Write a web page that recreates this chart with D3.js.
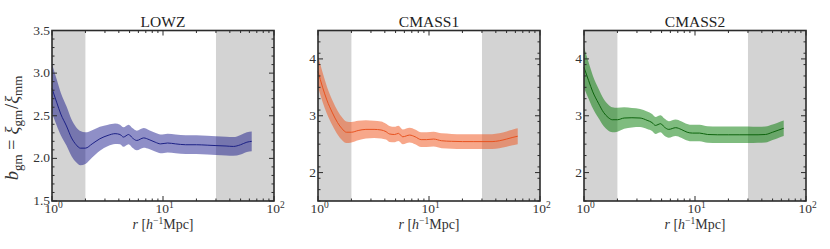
<!DOCTYPE html>
<html>
<head>
<meta charset="utf-8">
<script src="https://cdn.jsdelivr.net/npm/d3@7"></script>
<style>
  html, body { margin: 0; padding: 0; background: #fff; }
  svg { display: block; }
</style>
</head>
<body>
<svg id="chart" width="830" height="249" style="font-family: 'Liberation Serif', 'DejaVu Serif', serif;"></svg>
<script>
// ---------------- data ----------------
const rVals = [1.0, 1.1, 1.2, 1.35, 1.5, 1.65, 1.8, 2.0, 2.3, 2.7, 3.2, 3.7, 4.1, 4.4, 4.9, 5.3, 5.8, 6.7, 7.5, 8.5, 9.5, 11, 13, 16, 20, 25, 30, 37, 43, 50, 57, 63];

const lowzB   = [2.82, 2.66, 2.52, 2.38, 2.24, 2.16, 2.12, 2.12, 2.17, 2.23, 2.27, 2.29, 2.28, 2.25, 2.28, 2.24, 2.21, 2.24, 2.22, 2.19, 2.17, 2.18, 2.17, 2.16, 2.16, 2.155, 2.15, 2.145, 2.14, 2.16, 2.19, 2.20];
const lowzErr = [0.29, 0.27, 0.25, 0.23, 0.215, 0.205, 0.20, 0.185, 0.16, 0.14, 0.125, 0.12, 0.115, 0.115, 0.115, 0.115, 0.115, 0.115, 0.11, 0.11, 0.11, 0.11, 0.11, 0.11, 0.11, 0.11, 0.11, 0.11, 0.11, 0.115, 0.115, 0.115];

const cmass1B   = [3.78, 3.50, 3.28, 3.05, 2.88, 2.77, 2.71, 2.71, 2.74, 2.76, 2.76, 2.75, 2.72, 2.68, 2.67, 2.69, 2.63, 2.66, 2.63, 2.58, 2.58, 2.59, 2.56, 2.55, 2.545, 2.545, 2.545, 2.545, 2.56, 2.59, 2.62, 2.64];
const cmass1Err = [0.28, 0.26, 0.24, 0.22, 0.21, 0.20, 0.19, 0.18, 0.17, 0.16, 0.15, 0.15, 0.14, 0.14, 0.135, 0.135, 0.13, 0.13, 0.13, 0.13, 0.13, 0.13, 0.13, 0.13, 0.13, 0.13, 0.13, 0.13, 0.13, 0.135, 0.14, 0.14];

const cmass2B   = [3.85, 3.62, 3.42, 3.22, 3.06, 2.97, 2.93, 2.93, 2.96, 2.965, 2.96, 2.92, 2.88, 2.83, 2.86, 2.80, 2.76, 2.79, 2.76, 2.71, 2.695, 2.695, 2.67, 2.665, 2.665, 2.665, 2.665, 2.665, 2.67, 2.71, 2.75, 2.78];
const cmass2Err = [0.36, 0.32, 0.29, 0.26, 0.24, 0.23, 0.22, 0.21, 0.19, 0.17, 0.16, 0.155, 0.15, 0.15, 0.15, 0.15, 0.145, 0.145, 0.145, 0.145, 0.145, 0.145, 0.145, 0.145, 0.145, 0.145, 0.145, 0.14, 0.14, 0.135, 0.135, 0.135];

const panelNames = ["LOWZ", "CMASS1", "CMASS2"];
const lowzYTicks = [1.5, 2.0, 2.5, 3.0, 3.5];
const cmassYTicks = [2, 3, 4];
const xTickValues = [1, 10, 100];
const xTickExponents = ["0", "1", "2"];
const shadeRanges = [[1, 2], [30, 100]];

// ---------------- layout ----------------
const svg = d3.select("#chart");
const panelLefts = [52, 318, 584];
const pw = 222, plotTop = 30.5, plotBottom = 201;
const frameColor = "#2b2b2b";
const textColor = "#333";

const panels = [
  { name: panelNames[0], b: lowzB, err: lowzErr, ydom: [1.5, 3.5], yticks: lowzYTicks, fmt: d3.format(".1f"), minorStep: 0.1,
    band: "#000080", bandOpacity: 0.44, line: "#1c2186" },
  { name: panelNames[1], b: cmass1B, err: cmass1Err, ydom: [1.5, 4.5], yticks: cmassYTicks, fmt: d3.format("d"), minorStep: 0.2,
    band: "#f0561e", bandOpacity: 0.52, line: "#e8521f" },
  { name: panelNames[2], b: cmass2B, err: cmass2Err, ydom: [1.5, 4.5], yticks: cmassYTicks, fmt: d3.format("d"), minorStep: 0.2,
    band: "#007a00", bandOpacity: 0.5, line: "#0d640d" }
];

panels.forEach((p, i) => {
  const left = panelLefts[i];
  const x = d3.scaleLog().domain([1, 100]).range([left, left + pw]);
  const y = d3.scaleLinear().domain(p.ydom).range([plotBottom, plotTop]);
  const g = svg.append("g");

  // shaded excluded regions
  shadeRanges.forEach(([a, b]) => {
    g.append("rect")
      .attr("x", x(a)).attr("y", plotTop)
      .attr("width", x(b) - x(a)).attr("height", plotBottom - plotTop)
      .attr("fill", "#d3d3d3");
  });

  const data = rVals.map((r, k) => ({ r, b: p.b[k], e: p.err[k] }));

  const area = d3.area()
    .x(d => x(d.r))
    .y0(d => y(d.b - d.e))
    .y1(d => y(d.b + d.e))
    .curve(d3.curveMonotoneX);
  g.append("path").datum(data)
    .attr("d", area)
    .attr("fill", p.band)
    .attr("fill-opacity", p.bandOpacity)
    .attr("stroke", "none");

  const line = d3.line().x(d => x(d.r)).y(d => y(d.b)).curve(d3.curveMonotoneX);
  g.append("path").datum(data)
    .attr("d", line)
    .attr("fill", "none")
    .attr("stroke", p.line)
    .attr("stroke-width", 1);

  // ticks (inward, all sides)
  const majLen = 5, minLen = 2.5;
  const tickG = g.append("g").attr("stroke", frameColor).attr("stroke-width", 1);
  const xMinor = [];
  [1, 10].forEach(dec => { for (let m = 2; m <= 9; m++) xMinor.push(dec * m); });
  xMinor.forEach(v => {
    tickG.append("line").attr("x1", x(v)).attr("x2", x(v)).attr("y1", plotBottom).attr("y2", plotBottom - minLen);
    tickG.append("line").attr("x1", x(v)).attr("x2", x(v)).attr("y1", plotTop).attr("y2", plotTop + minLen);
  });
  xTickValues.forEach(v => {
    tickG.append("line").attr("x1", x(v)).attr("x2", x(v)).attr("y1", plotBottom).attr("y2", plotBottom - majLen);
    tickG.append("line").attr("x1", x(v)).attr("x2", x(v)).attr("y1", plotTop).attr("y2", plotTop + majLen);
  });
  const yMinor = d3.range(p.ydom[0], p.ydom[1] + 1e-9, p.minorStep)
    .filter(v => !p.yticks.some(t => Math.abs(t - v) < 1e-6));
  yMinor.forEach(v => {
    tickG.append("line").attr("x1", left).attr("x2", left + minLen).attr("y1", y(v)).attr("y2", y(v));
    tickG.append("line").attr("x1", left + pw).attr("x2", left + pw - minLen).attr("y1", y(v)).attr("y2", y(v));
  });
  p.yticks.forEach(v => {
    tickG.append("line").attr("x1", left).attr("x2", left + majLen).attr("y1", y(v)).attr("y2", y(v));
    tickG.append("line").attr("x1", left + pw).attr("x2", left + pw - majLen).attr("y1", y(v)).attr("y2", y(v));
  });

  // frame
  g.append("rect")
    .attr("x", left).attr("y", plotTop).attr("width", pw).attr("height", plotBottom - plotTop)
    .attr("fill", "none").attr("stroke", frameColor).attr("stroke-width", 1.6);

  // y tick labels
  p.yticks.forEach(v => {
    g.append("text")
      .attr("x", left - 2).attr("y", y(v) + 4)
      .attr("text-anchor", "end")
      .attr("font-size", 13.5)
      .attr("fill", textColor)
      .text(p.fmt(v));
  });

  // x tick labels 10^n
  xTickValues.forEach((v, k) => {
    const t = g.append("text")
      .attr("x", x(v) + 1.5).attr("y", 212.5)
      .attr("text-anchor", "middle")
      .attr("font-size", 13.5)
      .attr("fill", textColor);
    t.append("tspan").text("10");
    t.append("tspan").attr("dy", -5).attr("font-size", 9.5).text(xTickExponents[k]);
  });

  // title
  g.append("text")
    .attr("x", left + pw / 2).attr("y", 27)
    .attr("text-anchor", "middle")
    .attr("font-size", 15.5)
    .attr("fill", "#222")
    .text(p.name);

  // x label
  const xl = g.append("text")
    .attr("x", left + pw / 2).attr("y", 228.5)
    .attr("text-anchor", "middle")
    .attr("font-size", 14)
    .attr("fill", textColor);
  xl.append("tspan").attr("font-style", "italic").text("r");
  xl.append("tspan").text(" [");
  xl.append("tspan").attr("font-style", "italic").text("h");
  xl.append("tspan").attr("dy", -5).attr("font-size", 9.5).text("−1");
  xl.append("tspan").attr("dy", 5).text("Mpc]");
});

// y label
const yl = svg.append("text")
  .attr("transform", "translate(18,128) rotate(-90)")
  .attr("text-anchor", "middle")
  .attr("font-size", 18.5)
  .attr("fill", textColor);
yl.append("tspan").attr("font-style", "italic").text("b");
yl.append("tspan").attr("dy", 3.5).attr("font-size", 13).text("gm");
yl.append("tspan").attr("dy", -3.5).attr("dx", 4.5).text("=");
yl.append("tspan").attr("dx", 5).attr("font-style", "italic").text("ξ");
yl.append("tspan").attr("dy", 3.5).attr("font-size", 13).text("gm");
yl.append("tspan").attr("dy", -3.5).attr("dx", 1).text("/");
yl.append("tspan").attr("font-style", "italic").text("ξ");
yl.append("tspan").attr("dy", 3.5).attr("font-size", 13).text("mm");
</script>
</body>
</html>
